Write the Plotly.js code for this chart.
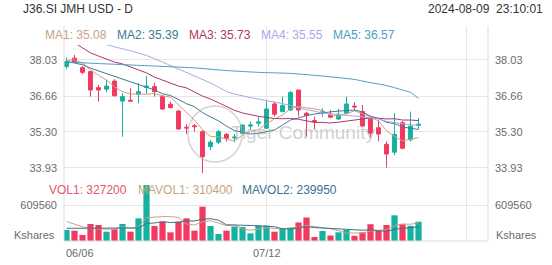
<!DOCTYPE html>
<html><head><meta charset="utf-8">
<script src="https://cdn.plot.ly/plotly-3.0.1.min.js"></script>
<style>html,body{margin:0;padding:0;background:#fff}#chart{width:552px;height:265px}</style>
</head><body><div id="chart"></div>
<script>
const dates = ['06/06','06/07','06/10','06/11','06/12','06/13','06/14','06/18','06/19','06/20','06/21','06/24','06/25','06/26','06/27','06/28',
  '07/01','07/02','07/03','07/04','07/05','07/08','07/09','07/10','07/11','07/12','07/15','07/16','07/17','07/18','07/19',
  '07/22','07/23','07/24','07/25','07/26','07/29','07/30','07/31','08/01','08/02','08/05','08/06','08/07','08/08'];
const openP  = [37.78,38.10,37.74,37.59,36.98,36.92,37.23,36.47,36.50,36.73,36.99,37.02,36.64,36.35,36.09,35.48,35.53,35.31,34.74,34.91,35.21,35.07,35.25,35.52,35.63,35.44,36.36,36.07,36.13,36.89,36.01,35.73,36.02,35.94,35.79,36.01,36.28,36.07,35.79,35.46,34.83,34.53,35.65,35.00,35.55];
const highP  = [38.13,38.22,37.80,37.62,37.08,37.27,37.30,36.77,36.96,37.15,37.42,37.17,36.70,36.45,36.13,35.59,35.60,35.36,34.99,35.37,35.25,35.22,35.59,35.69,35.88,36.51,36.45,36.64,36.86,36.89,36.07,35.88,36.20,36.13,36.17,36.64,36.42,36.32,35.82,35.75,34.93,36.01,35.71,36.07,35.82];
const lowP   = [37.69,37.92,37.49,36.64,36.45,36.80,36.65,35.12,36.45,36.39,36.74,36.64,36.13,36.20,35.38,35.22,35.31,33.74,34.61,34.83,34.93,34.90,35.21,35.37,35.50,35.42,35.88,36.04,36.10,35.88,35.12,35.41,35.88,35.82,35.75,35.98,36.13,35.50,35.08,34.95,33.94,34.42,34.64,34.93,35.41];
const closeP = [37.97,37.95,37.56,36.89,36.89,37.04,36.67,36.64,36.47,36.83,37.04,36.83,36.17,36.22,35.41,35.45,35.50,34.36,34.91,35.31,35.06,35.10,35.56,35.56,35.68,36.17,35.97,36.30,36.80,36.13,35.92,35.69,36.06,35.86,35.97,36.36,36.25,35.52,35.25,35.22,34.46,35.21,34.68,35.52,35.59];
const volume = [186000,175000,102000,288000,271000,158000,198000,288000,158000,384000,948000,254000,327000,147000,327000,384000,175000,581000,254000,119000,175000,245000,237000,130000,262000,262000,157000,220000,220000,313000,398000,68000,169000,93000,147000,186000,88000,147000,284000,169000,271000,435000,283000,257000,327200];
const ma1 = [38.02,38.03,37.92,37.65,37.45,37.27,37.01,36.83,36.74,36.73,36.73,36.76,36.67,36.62,36.33,36.02,35.75,35.39,35.13,35.11,35.03,34.95,35.19,35.32,35.39,35.61,35.79,35.94,36.18,36.27,36.22,36.17,36.12,35.93,35.90,35.99,36.10,35.99,35.87,35.72,35.34,35.13,34.96,35.02,35.08];
const ma2 = [37.98,37.92,37.85,37.72,37.62,37.52,37.40,37.30,37.20,37.09,37.00,36.89,36.75,36.68,36.53,36.37,36.26,36.03,35.87,35.72,35.52,35.35,35.29,35.22,35.25,35.32,35.37,35.56,35.75,35.83,35.92,35.98,36.03,36.06,36.09,36.11,36.13,36.06,35.90,35.81,35.66,35.62,35.48,35.44,35.39];
const ma3 = [38.79,38.68,38.49,38.30,38.18,38.07,37.95,37.88,37.76,37.65,37.54,37.38,37.27,37.16,37.04,36.97,36.81,36.66,36.55,36.41,36.26,36.12,36.02,35.95,35.89,35.85,35.81,35.80,35.81,35.78,35.72,35.66,35.66,35.64,35.67,35.71,35.75,35.81,35.83,35.82,35.79,35.80,35.75,35.75,35.73];
const ma4 = [38.94,38.87,38.79,38.74,38.68,38.61,38.53,38.46,38.38,38.29,38.20,38.08,37.95,37.82,37.69,37.57,37.44,37.30,37.16,37.00,36.83,36.74,36.66,36.60,36.55,36.49,36.42,36.37,36.31,36.21,36.15,36.07,36.02,35.99,35.96,35.93,35.92,35.88,35.84,35.79,35.70,35.65,35.60,35.57,35.55];
const ma5Idx = [0,8,16,20,24,28,32,36,38,40,42,43,44];
const ma5 = [37.95,37.84,37.73,37.63,37.56,37.52,37.42,37.29,37.17,37.06,36.89,36.80,36.57];
const mavol1 = [330000,290000,240000,215000,204000,199000,203000,241000,215000,237000,395000,406000,414000,412000,401000,288000,272000,323000,344000,303000,261000,275000,206000,181000,210000,227000,210000,206000,224000,234000,262000,244000,234000,208000,175000,133000,137000,132000,170000,175000,192000,261000,288000,283000,310400];
const mavol2 = [215000,215000,210000,212000,215000,215000,218000,222000,220000,221000,297000,305000,327000,313000,319000,342000,339000,369000,378000,352000,274000,273000,264000,263000,256000,244000,242000,206000,203000,222000,244000,227000,220000,216000,205000,197000,190000,183000,189000,175000,162000,199000,210000,227000,239950];
const priceTicks = [38.03, 36.66, 35.30, 33.93];
const volTick = 609560;
const xTickIdx = [0, 25];
const xGridIdx = [25, 50];
const maLabels = ['MA1: 35.08','MA2: 35.39','MA3: 35.73','MA4: 35.55','MA5: 36.57'];
const volLabels = ['VOL1: 327200','MAVOL1: 310400','MAVOL2: 239950'];

const UP = '#17b29f', DOWN = '#f2395f';
const MA_COLORS = ['#c9a27e','#3e7a96','#b2346a','#aaa8e4','#4b9ec6'];
const GRID = '#e6e6e6', TXT = '#6b6b6b';
const FONT = 'Liberation Sans, Arial, Helvetica, sans-serif';

// pixel frame helpers (plot area 64..488 x 26..241)
const L = 64, R = 488, T = 26, B = 241;
const px = x => (x - L) / (R - L);
const py = y => (B - y) / (B - T);

const idx = dates.map((d, i) => i);
const volColors = idx.map(i => closeP[i] >= openP[i] ? UP : DOWN);

const traces = [];
traces.push({type:'candlestick', x: idx, open: openP, high: highP, low: lowP, close: closeP,
  xaxis:'x', yaxis:'y', whiskerwidth: 0,
  increasing:{line:{color:UP,width:1}, fillcolor:UP},
  decreasing:{line:{color:DOWN,width:1}, fillcolor:DOWN}, hoverinfo:'skip'});
[ma1, ma2, ma3, ma4].forEach((m, k) => traces.push({type:'scatter', mode:'lines', x: idx, y: m,
  xaxis:'x', yaxis:'y', line:{color:MA_COLORS[k], width:1}, hoverinfo:'skip'}));
traces.push({type:'scatter', mode:'lines', x: ma5Idx, y: ma5, xaxis:'x', yaxis:'y',
  line:{color:MA_COLORS[4], width:1, shape:'spline', smoothing:0.6}, hoverinfo:'skip'});
traces.push({type:'bar', x: idx, y: volume, xaxis:'x', yaxis:'y2', width: 0.78,
  marker:{color: volColors, line:{width:0}}, hoverinfo:'skip'});
traces.push({type:'scatter', mode:'lines', x: idx, y: mavol1, xaxis:'x', yaxis:'y2',
  line:{color:'#c9a27e', width:1}, hoverinfo:'skip'});
traces.push({type:'scatter', mode:'lines', x: idx, y: mavol2, xaxis:'x', yaxis:'y2',
  line:{color:'#3e6f90', width:1}, hoverinfo:'skip'});
// invisible traces to activate right-side axes
traces.push({type:'scatter', mode:'lines', x:[0], y:[priceTicks[0]], xaxis:'x', yaxis:'y3', line:{width:0}, hoverinfo:'skip', showlegend:false});
traces.push({type:'scatter', mode:'lines', x:[0], y:[volTick], xaxis:'x', yaxis:'y4', line:{width:0}, hoverinfo:'skip', showlegend:false});

const priceRange = [33.550, 38.599];
const volRange = [0, 998988];
const priceDomain = [py(178), py(45)];
const volDomain = [0, py(182)];

const yPrice = {domain: priceDomain, range: priceRange, tickvals: priceTicks, ticktext: priceTicks.map(v => v.toFixed(2)),
  showgrid: true, gridcolor: GRID, gridwidth: 1, zeroline: false, showline: false, ticks: '',
  tickfont:{family:FONT, size:11, color:TXT}, ticklabelstandoff: 6, fixedrange: true};
const yVol = {domain: volDomain, range: volRange, tickvals: [volTick], ticktext: [String(volTick)],
  showgrid: true, gridcolor: GRID, zeroline: false, showline: false, ticks: '',
  tickfont:{family:FONT, size:11, color:TXT}, ticklabelstandoff: 6, fixedrange: true};

const shapes = [];
xGridIdx.forEach(v => shapes.push({type:'line', xref:'x', yref:'paper', x0:v, x1:v, y0:0, y1:1, line:{color:GRID, width:1}, layer:'below'}));
shapes.push({type:'line', xref:'paper', yref:'paper', x0:0, x1:0, y0:0, y1:1, line:{color:'#dcdcdc', width:1}});
shapes.push({type:'line', xref:'paper', yref:'paper', x0:1, x1:1, y0:0, y1:1, line:{color:'#dcdcdc', width:1}});
shapes.push({type:'line', xref:'paper', yref:'paper', x0:0, x1:1, y0:0, y1:0, line:{color:'#dcdcdc', width:1}});
// watermark logo ring
shapes.push({type:'circle', xref:'paper', yref:'paper', x0:px(188), x1:px(242), y0:py(162), y1:py(106),
  line:{color:'rgba(175,175,175,0.55)', width:1.5}, layer:'above'});

function ann(text, x, y, color, size, anchor, extra) {
  return Object.assign({text: text, xref:'paper', yref:'paper', x: px(x), y: py(y), xanchor: anchor || 'left', yanchor:'middle',
    showarrow:false, font:{family:FONT, size:size, color:color}}, extra || {});
}
const annotations = [];
annotations.push(ann('J36.SI JMH USD - D', 21, 9, '#333333', 12));
annotations.push(ann('2024-08-09\u00a0\u00a023:10:01', 545, 9, '#333333', 12, 'right'));
const maX = [43, 115, 187, 259, 331];
maLabels.forEach((t, k) => annotations.push(ann(t, maX[k], 35, MA_COLORS[k], 12)));
const volX = [47, 136, 240];
const volCols = ['#e8546a', '#c9a27e', '#3e6f90'];
volLabels.forEach((t, k) => annotations.push(ann(t, volX[k], 190, volCols[k], 12)));
annotations.push(ann('Kshares', 57, 235, TXT, 11, 'right'));
annotations.push(ann('Kshares', 494, 235, TXT, 11, 'left'));
annotations.push(ann(dates[xTickIdx[0]], 64, 253, TXT, 11, 'left'));
annotations.push({text: dates[xTickIdx[1]], xref:'x', yref:'paper', x: xTickIdx[1], y: py(253), xanchor:'center', yanchor:'middle',
  showarrow:false, font:{family:FONT, size:11, color:TXT}});
annotations.push(ann('Tiger Community', 303, 132, 'rgba(170,170,170,0.55)', 19, 'center'));

const layout = {
  width: 552, height: 265, margin:{l:L, r:552-R, t:T, b:265-B, pad:0},
  paper_bgcolor:'#fff', plot_bgcolor:'#fff', showlegend:false, hovermode:false, dragmode:false,
  font:{family:FONT},
  xaxis:{range:[-0.3125, 52.6875], anchor:'y2', showgrid:false, zeroline:false, showticklabels:false, ticks:'',
    showline:false, rangeslider:{visible:false}, fixedrange:true},
  yaxis: yPrice,
  yaxis2: yVol,
  yaxis3: Object.assign({}, yPrice, {overlaying:'y', side:'right', showgrid:false}),
  yaxis4: Object.assign({}, yVol, {overlaying:'y2', side:'right', showgrid:false}),
  shapes: shapes, annotations: annotations
};
Plotly.newPlot('chart', traces, layout, {displayModeBar:false, staticPlot:true});
</script></body></html>
